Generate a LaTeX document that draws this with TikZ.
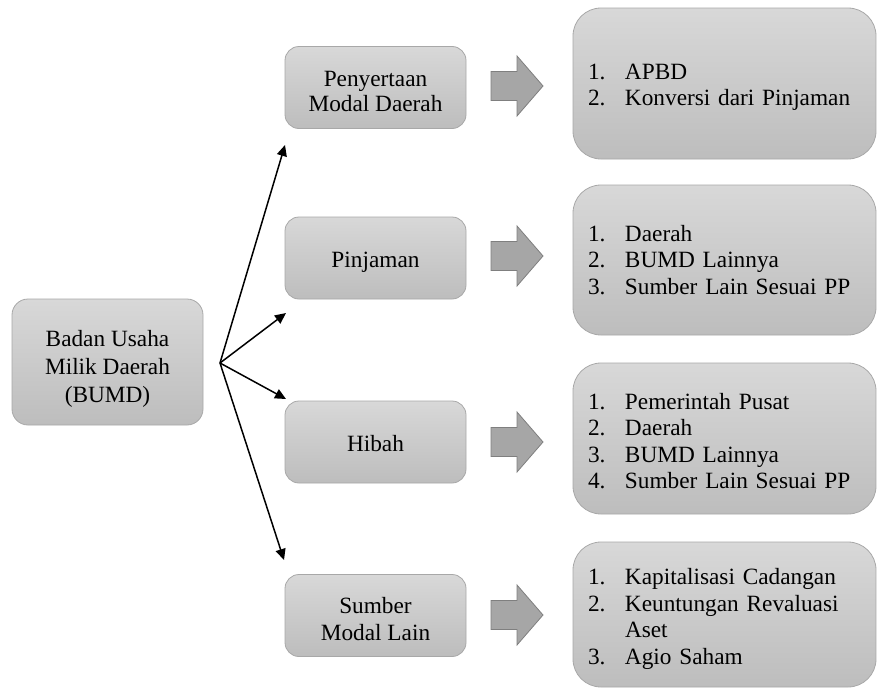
\documentclass[tikz,border=0pt]{standalone}
\usepackage{fontspec}
\setmainfont{Liberation Serif}
\usetikzlibrary{arrows.meta}
\definecolor{boxtop}{HTML}{D8D8D8}
\definecolor{boxbot}{HTML}{BDBDBD}
\definecolor{boxline}{HTML}{A8A8A8}
\definecolor{arrfill}{HTML}{A6A6A6}
\definecolor{arrline}{HTML}{7F7F7F}
\newcommand{\itm}[2]{\makebox[37pt][l]{#1}#2}
\newcommand{\up}[1]{\rule{0pt}{#1pt}}
\tikzset{
  gbox/.style={draw=boxline, line width=0.8pt, top color=boxtop, bottom color=boxbot,
    inner sep=0pt, align=center, font=\fontsize{23.3}{26.5}\selectfont},
  leftbox/.style={gbox, rounded corners=14pt, minimum width=181pt, minimum height=82pt},
  listbox/.style={gbox, rounded corners=28pt, minimum width=303pt, align=left,
    text width=273pt, inner xsep=15pt},
  link/.style={line width=1.5pt, -{Triangle[length=11pt,width=10pt]}},
  fatarrow/.style={draw=arrline, fill=arrfill, line width=0.8pt}
}
\newcommand{\fatarrowat}[2]{%
  \draw[fatarrow] (#1,#2-14.5) -- (#1+26,#2-14.5) -- (#1+26,#2-30) -- (#1+52,#2)
    -- (#1+26,#2+30) -- (#1+26,#2+14.5) -- (#1,#2+14.5) -- cycle;}
\begin{document}
\begin{tikzpicture}[x=1pt,y=-1pt]
\useasboundingbox (0,0) rectangle (877,688);
% main box
\node[gbox, rounded corners=16pt, minimum width=191pt, minimum height=126pt,
  font=\fontsize{23.3}{28}\selectfont] (bumd) at (107.5,362)
  {\up{30}Badan Usaha\\Milik Daerah\\(BUMD)};
% left boxes
\node[leftbox, font=\fontsize{23.3}{25}\selectfont] (pmd) at (375.5,87.5) {\up{24}Penyertaan\\Modal Daerah};
\node[leftbox] (pin) at (375.5,258) {\up{24}Pinjaman};
\node[leftbox] (hib) at (375.5,442) {\up{20}Hibah};
\node[leftbox, font=\fontsize{23.3}{27}\selectfont] (sml) at (375.5,615.5) {\up{24}Sumber\\Modal Lain};
% list boxes
\node[listbox, minimum height=151pt] (l1) at (724.5,83.5)
  {\up{23}\itm{1.}{APBD}\\\itm{2.}{Konversi dari Pinjaman}};
\node[listbox, minimum height=150pt] (l2) at (724.5,260)
  {\itm{1.}{Daerah}\\\itm{2.}{BUMD Lainnya}\\\itm{3.}{Sumber Lain Sesuai PP}};
\node[listbox, minimum height=151pt] (l3) at (724.5,438.5)
  {\up{21}\itm{1.}{Pemerintah Pusat}\\\itm{2.}{Daerah}\\\itm{3.}{BUMD Lainnya}\\\itm{4.}{Sumber Lain Sesuai PP}};
\node[listbox, minimum height=145pt] (l4) at (724.5,614.5)
  {\up{25}\itm{1.}{Kapitalisasi Cadangan}\\\itm{2.}{Keuntungan Revaluasi}\\\hspace*{37pt}Aset\\\itm{3.}{Agio Saham}};
% fat arrows
\fatarrowat{491}{86}
\fatarrowat{491}{256}
\fatarrowat{491}{442}
\fatarrowat{491}{615}
% connectors
\coordinate (hub) at (220,363);
\coordinate (t1) at (285,145);
\coordinate (t2) at (286,313);
\coordinate (t3) at (286,399);
\coordinate (t4) at (284,560);
\draw[link] (hub) -- (t1);
\draw[link] (hub) -- (t2);
\draw[link] (hub) -- (t3);
\draw[link] (hub) -- (t4);
\end{tikzpicture}
\end{document}
